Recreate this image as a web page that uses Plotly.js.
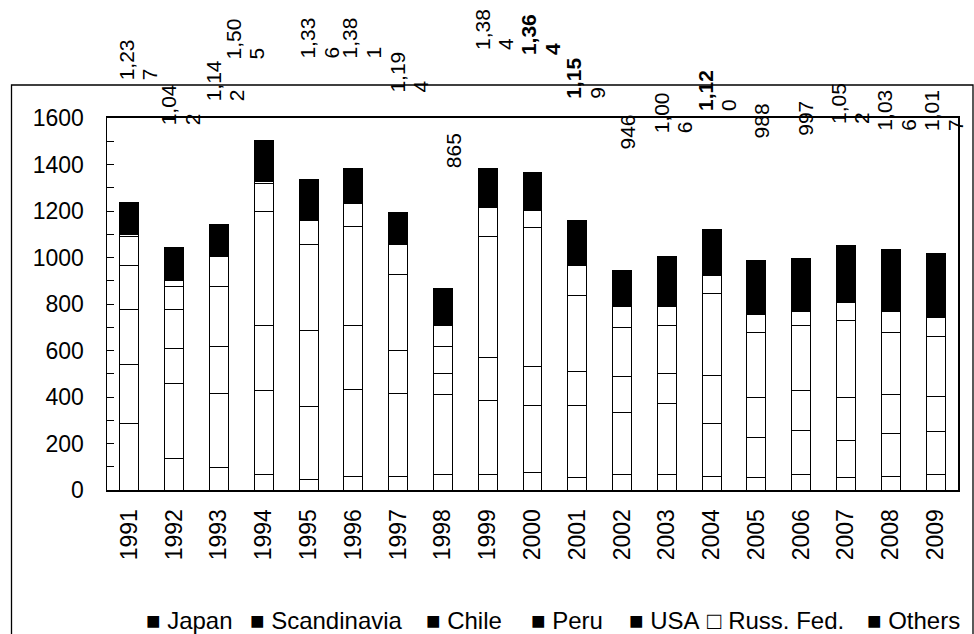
<!DOCTYPE html>
<html><head><meta charset="utf-8">
<script src="https://cdn.plot.ly/plotly-3.0.1.min.js"></script>
<style>html,body{margin:0;padding:0;background:#fff}#chart{width:974px;height:634px}</style>
</head><body><div id="chart"></div>
<script>
// ---------------- data ----------------
const years = ['1991','1992','1993','1994','1995','1996','1997','1998','1999','2000',
               '2001','2002','2003','2004','2005','2006','2007','2008','2009'];
const japan       = [288,136, 97, 66, 44, 59, 59, 66, 66, 76, 52, 66, 66, 59, 52, 66, 52, 59, 66];
const scandinavia = [251,320,320,360,314,375,358,344,321,289,313,268,307,229,174,192,160,185,185];
const chile       = [236,153,199,281,327,273,185, 92,183,167,145,153,129,206,170,168,185,166,152];
const peru        = [192,166,260,490,373,428,327,114,519,595,328,212,206,352,282,282,334,268,259];
const usa         = [122, 99,127,120,100, 98,126, 91,126, 77,129, 89, 80, 78, 76, 60, 76, 89, 80];
const russFed     = [ 12, 29,  0, 12,  0,  0,  0,  0,  0,  0,  0,  0,  0,  0,  0,  0,  0,  0,  0];
const others      = [136,139,139,176,178,148,139,158,169,160,192,158,218,196,234,229,245,269,275];
const seriesNames = ['Japan','Scandinavia','Chile','Peru','USA','Russ. Fed.','Others'];

// ---------------- layout helpers ----------------
const W = 974, H = 634;
const L = 107, R = 958, T = 118, B = 490;   // plot area in px
const yMax = 1600;
const pxX = px => (px - L) / (R - L);
const pxY = py => (B - py) / (B - T);

// label placement (value units for the bottom of each rotated label, px shift of first line)
const labelBase = [1755,1561,1665,1841,1849,1849,1699,1376,1884,1862,1673,1454,1527,1622,1505,1514,1566,1535,1535];
const labelDx   = [-2.5,-5.4,-6,-30.7,-0.6,-3.5,-1,10.7,-5.2,-4,-4,5,-5,-6,5.4,4,-7.4,-5.8,-4.2];
const lineGap = 23.5;
const boldLabels = {'2000':[true,true], '2001':[true,false], '2004':[true,false]};

const FONT = 'Liberation Sans, Arial, sans-serif';
const allSeries = [japan, scandinavia, chile, peru, usa, russFed, others];
const fills = ['#ffffff','#ffffff','#ffffff','#ffffff','#ffffff','#ffffff','#000000'];

const traces = allSeries.map((arr, k) => ({
  type: 'bar', x: years, y: arr, name: seriesNames[k],
  marker: {color: fills[k], line: {color: '#000', width: 1}},
  hoverinfo: 'skip', showlegend: false
}));

const annotations = [];
years.forEach((yr, i) => {
  const total = allSeries.reduce((s, a) => s + a[i], 0);
  const s = total.toLocaleString('en-US');
  const lines = s.length > 4 ? [s.slice(0, 4), s.slice(4)] : [s];
  lines.forEach((ln, j) => {
    const bold = boldLabels[yr] && boldLabels[yr][j];
    annotations.push({
      x: i, xref: 'x', y: labelBase[i] / yMax, yref: 'paper',
      text: bold ? '<b>' + ln + '</b>' : ln,
      textangle: -90, xanchor: 'center', yanchor: 'bottom',
      xshift: labelDx[i] + j * lineGap, showarrow: false,
      font: {family: FONT, size: 21, color: '#000'}
    });
  });
});

// legend drawn as text items
const legendX = [144, 248, 424, 529, 627, 705, 865];
const legendSym = ['■','■','■','■','■','□','■'];
seriesNames.forEach((n, k) => {
  annotations.push({
    x: pxX(legendX[k]), xref: 'paper', y: pxY(620), yref: 'paper',
    xanchor: 'left', yanchor: 'middle', showarrow: false,
    text: legendSym[k] + ' ' + n,
    font: {family: FONT, size: 24, color: '#000'}
  });
});

const layout = {
  width: W, height: H,
  margin: {l: L, r: W - R, t: T, b: H - B, pad: 0},
  paper_bgcolor: '#fff', plot_bgcolor: '#fff',
  barmode: 'stack', bargap: 0.577,
  font: {family: FONT, color: '#000'},
  xaxis: {
    type: 'category', range: [-0.5, years.length - 0.5], autorange: false,
    showline: true, linecolor: '#000', linewidth: 2, mirror: true,
    ticks: '', tickangle: -90, tickfont: {size: 23, family: FONT, color: '#000'},
    showgrid: false, zeroline: false, ticklabelstandoff: 8
  },
  yaxis: {
    range: [0, yMax], autorange: false, tick0: 0, dtick: 200, showline: true, linecolor: '#000', linewidth: 1.5,
    mirror: true, ticks: 'inside', ticklen: 7, tickwidth: 1, tickcolor: '#000',
    minor: {dtick: 100, tick0: 0, ticks: 'inside', ticklen: 7, tickcolor: '#000', showgrid: false},
    tickfont: {size: 23, family: FONT, color: '#000'},
    showgrid: false, zeroline: false, ticklabelstandoff: 17
  },
  shapes: [{
    type: 'rect', xref: 'paper', yref: 'paper',
    x0: pxX(11.5), x1: pxX(973), y0: pxY(660), y1: pxY(85),
    line: {color: '#000', width: 1.3}, fillcolor: 'rgba(0,0,0,0)', layer: 'below'
  }],
  annotations: annotations
};

Plotly.newPlot('chart', traces, layout, {staticPlot: true, displayModeBar: false});
</script>
</body></html>
